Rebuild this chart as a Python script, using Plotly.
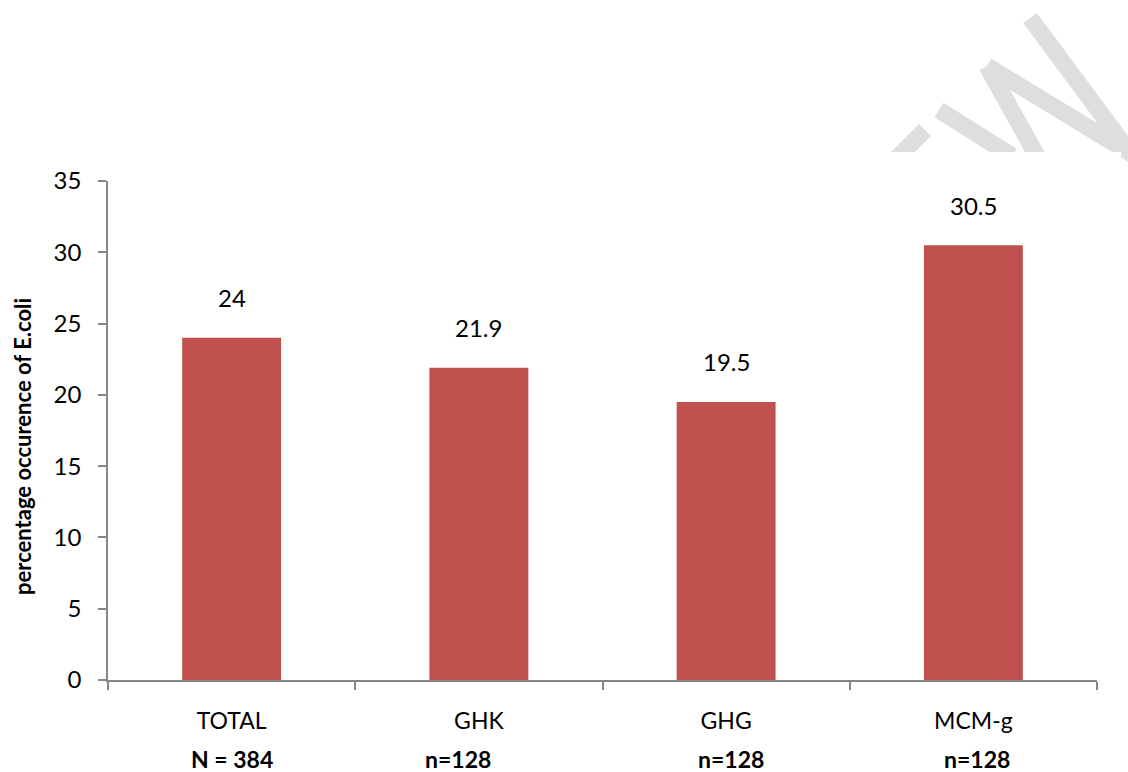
import plotly.graph_objects as go

categories = ["TOTAL", "GHK", "GHG", "MCM-g"]
values = [24, 21.9, 19.5, 30.5]
value_labels = ["24", "21.9", "19.5", "30.5"]
sample_labels = ["N = 384", "n=128", "n=128", "n=128"]
sample_label_shift = [0, -21, 5, 4]
y_ticks = [0, 5, 10, 15, 20, 25, 30, 35]

W, H = 1128, 772
L, R, T, B = 108, 31, 181, 92
PW, PH = W - L - R, H - T - B

def px(x):
    return (x - L) / PW

def py(y):
    return (H - B - y) / PH

FONT = "Lato, Carlito, 'Liberation Sans', sans-serif"
BAR = "#C0504D"
AXIS = "#868686"
WM = "#DEDEDE"

fig = go.Figure()
fig.add_trace(go.Bar(
    x=categories, y=values, marker=dict(color=BAR, line=dict(width=0)),
    width=0.4, showlegend=False, hoverinfo="x+y",
))

annotations = []
for c, v, t in zip(categories, values, value_labels):
    annotations.append(dict(x=c, y=v, xref="x", yref="y", text=t, showarrow=False,
                            yanchor="middle", yshift=40,
                            font=dict(family=FONT, size=24, color="#000000")))
for c, t, s in zip(categories, sample_labels, sample_label_shift):
    annotations.append(dict(x=c, y=py(759), xref="x", yref="paper", text="<b>%s</b>" % t,
                            showarrow=False, yanchor="middle", xshift=s,
                            font=dict(family=FONT, size=23, color="#000000")))
annotations.append(dict(x=px(22), y=py(447), xref="paper", yref="paper",
                        text="<b>percentage occurence of E.coli</b>", textangle=-90,
                        showarrow=False, xanchor="center", yanchor="middle",
                        font=dict(family=FONT, size=22, color="#000000")))

# watermark strokes (decorative)
strokes = [
    ((925, 130), (895, 160)),
    ((939, 110), (1012, 156)),
    ((987, 66), (1037, 156)),
    ((987, 66), (1135, 156)),
    ((1030, 18), (1128, 150)),
]
shapes = []
for (x0, y0), (x1, y1) in strokes:
    shapes.append(dict(type="line", xref="paper", yref="paper",
                       x0=px(x0), y0=py(y0), x1=px(x1), y1=py(y1),
                       line=dict(color=WM, width=17), layer="below"))
shapes.append(dict(type="rect", xref="paper", yref="paper",
                   x0=px(840), x1=px(1121), y0=py(152), y1=py(175),
                   fillcolor="#FFFFFF", line=dict(width=0), layer="below"))

fig.update_layout(
    width=W, height=H,
    margin=dict(l=L, r=R, t=T, b=B, pad=0),
    paper_bgcolor="#FFFFFF", plot_bgcolor="rgba(0,0,0,0)",
    bargap=0.6,
    annotations=annotations,
    shapes=shapes,
    font=dict(family=FONT, size=22, color="#000000"),
    xaxis=dict(
        type="category", categoryorder="array", categoryarray=categories,
        showline=True, linecolor=AXIS, linewidth=1.5,
        ticks="outside", tickson="boundaries", ticklen=8, tickcolor=AXIS, tickwidth=1.5,
        showgrid=False, zeroline=False, ticklabelstandoff=20,
        tickfont=dict(family=FONT, size=23, color="#000000"),
    ),
    yaxis=dict(
        range=[0, 35], tickvals=y_ticks, ticktext=[str(v) for v in y_ticks],
        showline=True, linecolor=AXIS, linewidth=1.5,
        ticks="outside", ticklen=8, tickcolor=AXIS, tickwidth=1.5,
        showgrid=False, zeroline=False, ticklabelstandoff=12,
        tickfont=dict(family=FONT, size=24, color="#000000"),
    ),
)

fig.write_html("out.html")
